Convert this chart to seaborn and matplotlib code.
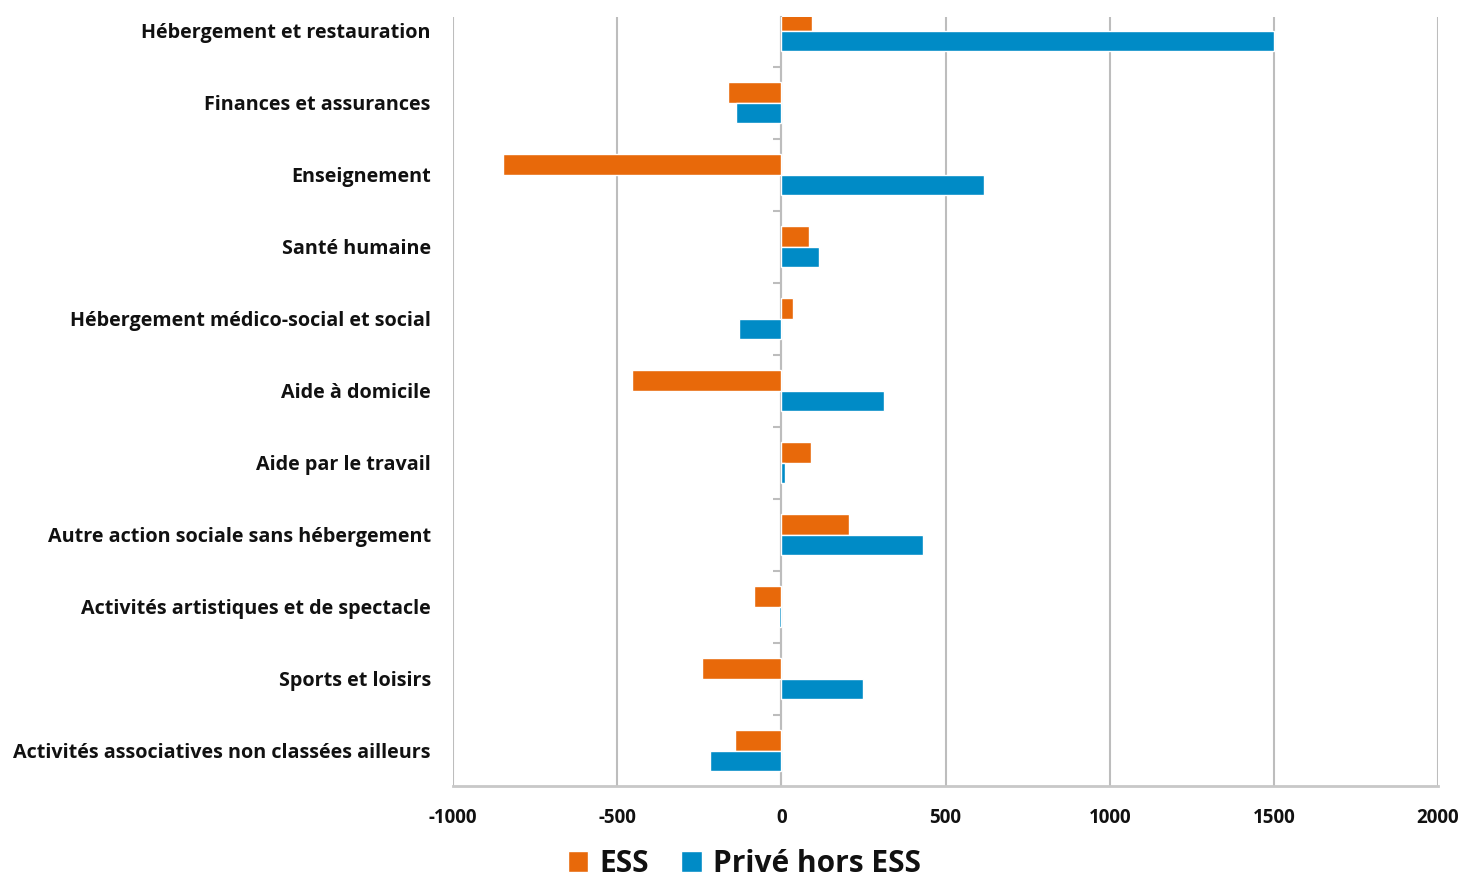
import matplotlib
matplotlib.use("Agg")
import matplotlib.pyplot as plt
import seaborn as sns
import pandas as pd
import numpy as np

categories = [
    "Hébergement et restauration",
    "Finances et assurances",
    "Enseignement",
    "Santé humaine",
    "Hébergement médico-social et social",
    "Aide à domicile",
    "Aide par le travail",
    "Autre action sociale sans hébergement",
    "Activités artistiques et de spectacle",
    "Sports et loisirs",
    "Activités associatives non classées ailleurs",
]
ess = [94, -161, -847, 85, 37, -454, 91, 207, -82, -241, -140]
prive = [1500, -137, 618, 116, -128, 314, 12, 430, -6, 250, -216]
series_names = ["ESS", "Privé hors ESS"]
x_ticks = [-1000, -500, 0, 500, 1000, 1500, 2000]

sns.set_theme(style="white")
plt.rcParams["font.family"] = ["Open Sans", "DejaVu Sans"]

df = pd.DataFrame({
    "cat": categories * 2,
    "val": ess + prive,
    "serie": [series_names[0]] * len(categories) + [series_names[1]] * len(categories),
})

W, H = 1465, 877
fig = plt.figure(figsize=(W / 100, H / 100), dpi=100)
ax = fig.add_axes([453 / W, 1 - 786 / H, 985 / W, 769 / H])

grid_c = "#BDBDBD"
sns.barplot(data=df, y="cat", x="val", hue="serie", orient="h",
            palette=["#E8690A", "#008BC6"], width=0.57, saturation=1,
            errorbar=None, ax=ax)

ax.set_xlim(-1000, 2000)
ax.set_ylim(10.49, -0.19)
ax.set_xticks(x_ticks)
ax.set_xticklabels([str(t) for t in x_ticks])
ax.set_xlabel("")
ax.set_ylabel("")
ax.set_axisbelow(True)
ax.grid(axis="x", color=grid_c, lw=1.5)
ax.grid(axis="y", visible=False)
for s in ["top", "right", "left"]:
    ax.spines[s].set_visible(False)
ax.spines["bottom"].set_color("#C8C8C8")
ax.spines["bottom"].set_linewidth(2)

ax.tick_params(axis="y", length=0, pad=16, labelsize=14.2)
ax.tick_params(axis="x", direction="out", length=6, width=1.3, color=grid_c,
               pad=10, labelsize=13.5)
for lab in ax.get_yticklabels() + ax.get_xticklabels():
    lab.set_fontweight("bold")
    lab.set_color("#111111")

# zero line with category separator ticks
sec = ax.secondary_yaxis(1 / 3)
sec.set_yticks(np.arange(-0.5, len(categories) + 0.5, 1))
sec.set_yticklabels([])
sec.tick_params(length=6, width=1.5, color=grid_c)
sec.spines["left"].set_color(grid_c)
sec.spines["left"].set_linewidth(1.5)

handles, labels = ax.get_legend_handles_labels()
ax.legend_.remove()
leg = fig.legend(handles, labels, loc="center", bbox_to_anchor=(744 / W, 1 - 864 / H),
                 ncol=2, frameon=False, prop={"weight": "bold", "size": 21.5},
                 handlelength=0.7, handleheight=0.7, handletextpad=0.35,
                 columnspacing=1.1, borderpad=0.1)
for t in leg.get_texts():
    t.set_color("#111111")

fig.savefig("out.png", dpi=100)
